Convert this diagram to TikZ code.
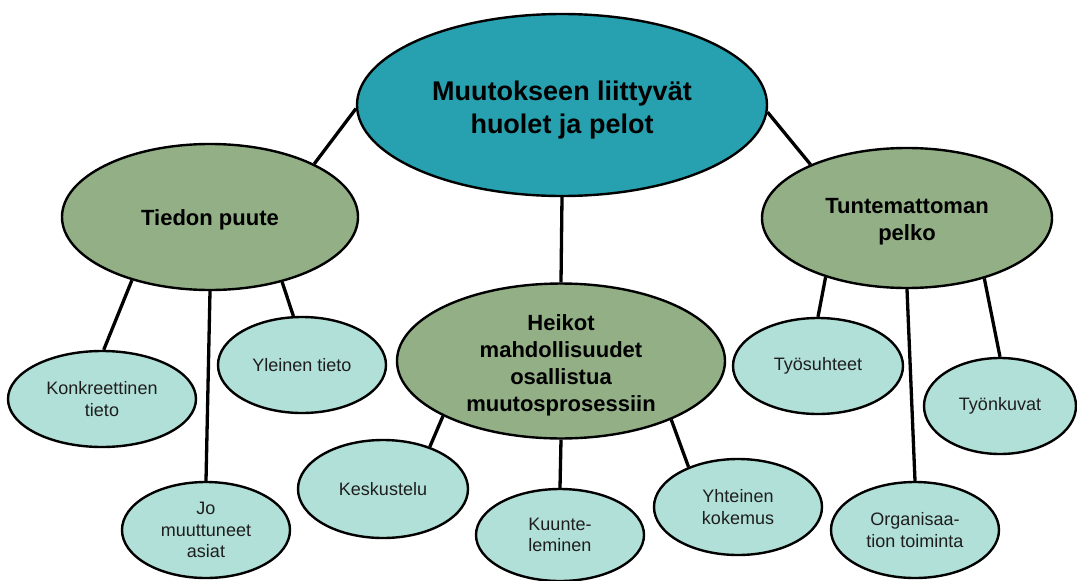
\documentclass[tikz,border=0pt]{standalone}
\usepackage{fontspec}
\setmainfont{Liberation Sans}
\usetikzlibrary{shapes.geometric}
\pgfdeclarelayer{bg}
\pgfsetlayers{bg,main}
\definecolor{rootfill}{RGB}{39,161,176}
\definecolor{midfill}{RGB}{146,175,134}
\definecolor{leaffill}{RGB}{177,224,216}
\definecolor{leaftext}{RGB}{30,30,30}
\tikzset{
  bubble/.style={ellipse, draw=black, line width=2.4pt, inner sep=0pt, align=center},
  rootbubble/.style={bubble, fill=rootfill, font=\fontsize{27}{33}\selectfont\bfseries},
  midbubble/.style={bubble, fill=midfill, font=\fontsize{22}{27}\selectfont\bfseries},
  leafbubble/.style={bubble, fill=leaffill, text=leaftext, font=\fontsize{18}{21.7}\selectfont},
  link/.style={line width=3.3pt, black}
}
\begin{document}
\begin{tikzpicture}[x=1pt,y=-1pt]
\useasboundingbox (0,0) rectangle (1077,581);

% centre topic
\node[rootbubble, minimum width=410, minimum height=182] (root) at (562,105)
  {\rule{0pt}{29pt}Muutokseen liittyvät\\huolet ja pelot};

% three themes
\node[midbubble, minimum width=296, minimum height=146] (tieto) at (210,217) {\rule{0pt}{22pt}Tiedon puute};
\node[midbubble, minimum width=290, minimum height=140] (tunt) at (907,218) {\rule{0pt}{23pt}Tuntemattoman\\pelko};
\node[midbubble, minimum width=328, minimum height=144] (heikot) at (561,361)
  {\rule{0pt}{24pt}Heikot\\mahdollisuudet\\osallistua\\muutosprosessiin};

% details
\node[leafbubble, minimum width=188, minimum height=96] (konk) at (102,399) {Konkreettinen\\tieto};
\node[leafbubble, minimum width=168, minimum height=96] (yleinen) at (302,365) {Yleinen tieto};
\node[leafbubble, minimum width=168, minimum height=96] (jo) at (206,530) {Jo\\muuttuneet\\asiat};
\node[leafbubble, minimum width=170, minimum height=98] (kesk) at (383,489) {Keskustelu};
\node[leafbubble, minimum width=168, minimum height=92] (kuunt) at (560,535) {Kuunte-\\leminen};
\node[leafbubble, minimum width=168, minimum height=96] (yht) at (738,507) {Yhteinen\\kokemus};
\node[leafbubble, minimum width=170, minimum height=96] (tyos) at (818,366) {Työsuhteet};
\node[leafbubble, minimum width=152, minimum height=96] (tyonk) at (1000,406) {Työnkuvat};
\node[leafbubble, minimum width=168, minimum height=96] (org) at (915,530) {Organisaa-\\tion toiminta};

% connectors, behind the bubbles
\begin{pgfonlayer}{bg}
\fill[white] (0,0) rectangle (1077,581);
\draw[link] (root.-179) -- (tieto.27);
\draw[link] (root.-2) -- (tunt.151);
\draw[link] (root.south) -- (heikot.north);
\draw[link] (tieto.219) -- (konk.88);
\draw[link] (tieto.south) -- (jo.north);
\draw[link] (tieto.-42) -- (yleinen.100);
\draw[link] (heikot.205) -- (kesk.42);
\draw[link] (heikot.south) -- (kuunt.north);
\draw[link] (heikot.-28) -- (yht.141);
\draw[link] (tunt.216) -- (tyos.north);
\draw[link] (tunt.south) -- (org.north);
\draw[link] (tunt.-38) -- (tyonk.north);
\end{pgfonlayer}
\end{tikzpicture}
\end{document}
